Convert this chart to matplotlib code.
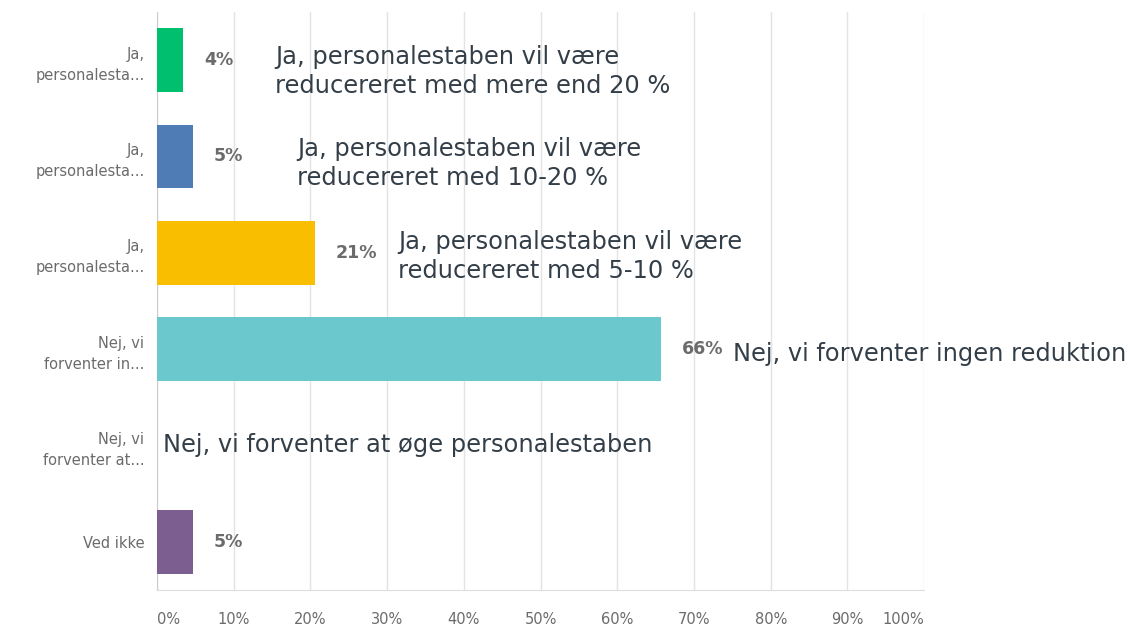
import matplotlib.pyplot as plt

# data
labels = ['Ja,\npersonalesta...', 'Ja,\npersonalesta...', 'Ja,\npersonalesta...',
          'Nej, vi\nforventer in...', 'Nej, vi\nforventer at...', 'Ved ikke']
values = [3.4, 4.7, 20.6, 65.7, 0, 4.7]
value_text = ['4%', '5%', '21%', '66%', '', '5%']
colors = ['#00bf6f', '#507cb6', '#f9be00', '#6bc8cd', '#7d5e90', '#7d5e90']
notes = ['Ja, personalestaben vil være\nreducereret med mere end 20 %',
         'Ja, personalestaben vil være\nreducereret med 10-20 %',
         'Ja, personalestaben vil være\nreducereret med 5-10 %',
         'Nej, vi forventer ingen reduktion',
         'Nej, vi forventer at øge personalestaben',
         '']
note_x = [15.4, 18.3, 31.4, 75.1, 0.8, 0]
note_dy = [0.12, 0.07, 0.04, 0.05, 0.0, 0]

fig = plt.figure(figsize=(11.34, 6.27), dpi=100)
ax = fig.add_axes([0.1384, 0.059, 0.6766, 0.922])

y = list(range(len(labels)))
ax.barh(y, values, height=0.66, color=colors, zorder=3)
ax.set_ylim(5.5, -0.5)
ax.set_xlim(0, 100)

for i in y:
    if value_text[i]:
        ax.annotate(value_text[i], (values[i], i), xytext=(15, 0), textcoords='offset points',
                    ha='left', va='center', fontsize=12.5, fontweight='bold', color='#6b6b6b')
    if notes[i]:
        ax.text(note_x[i], i + note_dy[i], notes[i], ha='left', va='center', fontsize=17.4,
                family='DejaVu Sans', color='#333e48', linespacing=1.25, zorder=4)

ax.set_yticks(y)
ax.set_yticklabels(labels, fontsize=10.5, color='#6b6b6b', linespacing=1.5)
xt = list(range(0, 101, 10))
ax.set_xticks(xt)
ax.set_xticklabels([f'{t}%' for t in xt], fontsize=10.5, color='#6b6b6b')
xl = ax.get_xticklabels()
xl[0].set_ha('left')
xl[-1].set_ha('right')
ax.tick_params(axis='y', length=0, pad=9)
ax.tick_params(axis='x', length=0, pad=16)
ax.grid(axis='x', color='#e3e3e3', linewidth=1, zorder=0)
for s in ['top', 'right']:
    ax.spines[s].set_visible(False)
ax.spines['left'].set_color('#cccccc')
ax.spines['bottom'].set_color('#dddddd')

plt.savefig('out.png')
